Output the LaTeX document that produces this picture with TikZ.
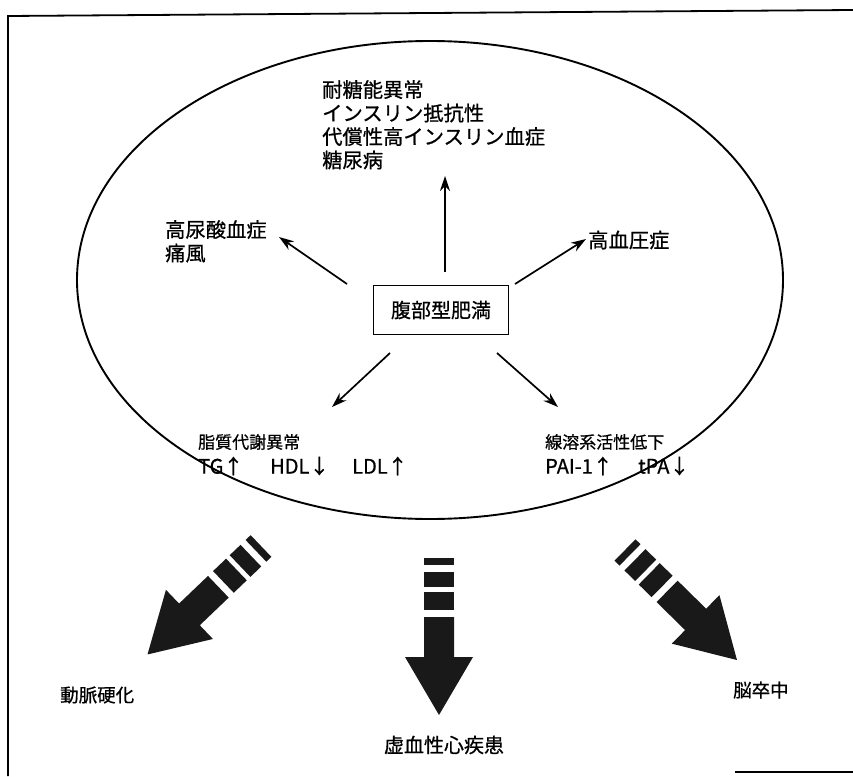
\documentclass[tikz,border=0pt]{standalone}
\usepackage{fontspec}
\setmainfont{Noto Sans CJK JP}[FakeBold=0.7]
\usetikzlibrary{arrows.meta}
\tikzset{
  lbl/.style={inner sep=0pt, anchor=west, align=left, font=\fontsize{20.3}{23.5}\selectfont},
  lblsm/.style={inner sep=0pt, anchor=west, align=left, font=\fontsize{17}{24}\selectfont},
  latin/.style={inner sep=0pt, anchor=west, font=\fontsize{20}{24}\selectfont},
  thinarrow/.style={line width=1.7pt, -{Stealth[length=15pt,width=10pt]}},
  bigfill/.style={fill=black!90},
}
\newcommand{\fatarrow}[2]{%
  \begin{scope}[shift={#1},rotate=#2]
    \fill[bigfill] (0,-15) rectangle (7,15);
    \fill[bigfill] (14,-15) rectangle (29,15);
    \fill[bigfill] (34,-15) rectangle (52,15);
    \fill[bigfill] (59,-15) -- (99,-15) -- (99,-34) -- (157,0) -- (99,34) -- (99,15) -- (59,15) -- cycle;
  \end{scope}}
\begin{document}
\begin{tikzpicture}[x=1pt,y=-1pt]
\useasboundingbox (0,0) rectangle (853,776);
% frame
\draw[line width=1.8pt] (8,776) -- (8,16) -- (853,10);
\draw[line width=1.8pt] (735,772) -- (853,772);
% ellipse
\draw[line width=1.9pt] (430,280) ellipse [x radius=353, y radius=239];
% center box
\node[draw, line width=1.8pt, minimum width=135pt, minimum height=49pt, inner sep=0pt,
      font=\fontsize{20}{24}\selectfont] (obes) at (441,310) {腹部型肥満};
% texts
\node[lbl, anchor=north west] (glu) at (322,80) {耐糖能異常\\インスリン抵抗性\\代償性高インスリン血症\\糖尿病};
\node[lbl, anchor=north west] (uric) at (165,220) {高尿酸血症\\痛風};
\node[lbl] (hyp) at (588,240) {高血圧症};
\node[lblsm] (lip) at (198,442) {脂質代謝異常};
\node[latin] (tg) at (198,466) {TG↑};
\node[latin] (hdl) at (270,466) {HDL↓};
\node[latin] (ldl) at (352,466) {LDL↑};
\node[lblsm] (fib) at (545,442) {線溶系活性低下};
\node[latin] (pai) at (545,466) {PAI-1↑};
\node[latin] (tpa) at (638,466) {tPA↓};
% thin arrows
\coordinate (s1) at (445,272); \coordinate (e1) at (445,176);
\coordinate (s2) at (347,284); \coordinate (e2) at (279,237);
\coordinate (s3) at (515,284); \coordinate (e3) at (586,239);
\coordinate (s4) at (390,353); \coordinate (e4) at (332,407);
\coordinate (s5) at (497,353); \coordinate (e5) at (558,407);
\draw[thinarrow] (s1) -- (e1);
\draw[thinarrow] (s2) -- (e2);
\draw[thinarrow] (s3) -- (e3);
\draw[thinarrow] (s4) -- (e4);
\draw[thinarrow] (s5) -- (e5);
% fat arrows
\fatarrow{(261,546)}{223.7}
\fatarrow{(439,558)}{-90}
\fatarrow{(625,550)}{-44.5}
% outcome labels
\node[lbl, font=\fontsize{18.5}{24}\selectfont] (ath) at (60,695) {動脈硬化};
\node[inner sep=0pt, font=\fontsize{20}{24}\selectfont] (ihd) at (444,745) {虚血性心疾患};
\node[lbl, font=\fontsize{18.5}{24}\selectfont] (str) at (733,690) {脳卒中};
\end{tikzpicture}
\end{document}
